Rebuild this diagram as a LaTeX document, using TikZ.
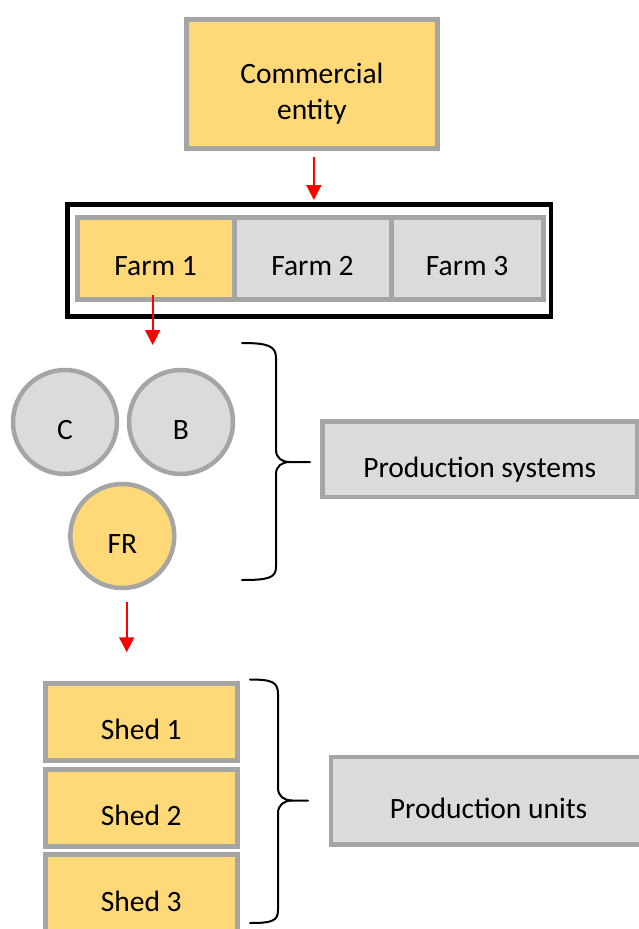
\documentclass[tikz,border=0pt]{standalone}
\usepackage{fontspec}
\setmainfont{Carlito}
\usetikzlibrary{arrows.meta,calc}

\definecolor{boxyellow}{HTML}{FFD978}
\definecolor{boxgray}{HTML}{DBDBDB}
\definecolor{bordergray}{HTML}{A5A5A5}
\definecolor{arrowred}{HTML}{FF0000}

\tikzset{
  box/.style={draw=bordergray, line width=5pt, inner sep=0pt, anchor=north west},
  yellowbox/.style={box, fill=boxyellow},
  graybox/.style={box, fill=boxgray},
  unitcircle/.style={circle, draw=bordergray, line width=4.5pt, inner sep=0pt,
    minimum size=104pt, text height=35.2pt, text depth=0pt},
  redarrow/.style={draw=arrowred, line width=2pt, -{Triangle[length=15pt,width=15pt]}},
  bracket/.style={draw=black, line width=2pt, line cap=round, line join=round},
}

\begin{document}
\begin{tikzpicture}[x=1pt, y=-1pt, font=\fontsize{29.5}{36}\selectfont]
\useasboundingbox (0,0) rectangle (639,929);

% top level
\node[yellowbox, minimum width=251.7pt, text height=64.5pt, text depth=64.7pt]
  (ce) at (183.5,16.5) {\parbox[t]{240pt}{\centering Commercial\\entity}};

% farms inside the black frame
\node[draw=black, line width=4.7pt, inner sep=0pt, anchor=north west,
  minimum width=483.6pt, minimum height=111.9pt] (frame) at (65,202.4) {};
\node[graybox, minimum width=157pt, text height=58.2pt, text depth=23.8pt]
  (farmB) at (231.5,214.5) {Farm 2};
\node[graybox, minimum width=152.3pt, text height=58.2pt, text depth=23.8pt]
  (farmC) at (388.5,214.5) {Farm 3};
\node[yellowbox, minimum width=156.7pt, text height=58.2pt, text depth=23.8pt]
  (farmA) at (74.8,214.5) {Farm 1};

% production systems
\node[unitcircle, fill=boxgray] (circC) at (65,422) {C};
\node[unitcircle, fill=boxgray] (circB) at (181,422) {B};
\node[unitcircle, fill=boxyellow] (circFR) at (122.3,536) {FR};
\node[graybox, line width=4.5pt, minimum width=314.4pt, text height=55.7pt, text depth=19.7pt]
  (psys) at (320.3,419.3) {Production systems};

% production units
\node[yellowbox, minimum width=191.6pt, text height=56pt, text depth=21.5pt]
  (shedA) at (43,680.8) {Shed 1};
\node[yellowbox, minimum width=191.6pt, text height=56.8pt, text depth=20.9pt]
  (shedB) at (43,766.5) {Shed 2};
\node[yellowbox, minimum width=191.6pt, text height=56.8pt, text depth=21pt]
  (shedC) at (43,852.3) {Shed 3};
\node[graybox, line width=4.5pt, minimum width=315pt, text height=62pt, text depth=25.3pt]
  (punits) at (328.9,754.7) {Production units};

% red arrows
\draw[redarrow] ($(ce.south)+(2,6)$) -- ($(ce.south |- frame.north)+(2,-2.4)$);
\draw[redarrow] ($(farmA.south)+(-3,-6.5)$) -- ($(farmA.south)+(-3,43.5)$);
\draw[redarrow] ($(circFR.south)+(4.4,12)$) -- ($(circFR.south)+(4.4,62)$);

% curly brackets
\draw[bracket] (242,343) .. controls (268,343) and (276,346) .. (276,358)
  -- (276,450) .. controls (276,458) and (282,462) .. (290,462) -- (310,462);
\draw[bracket] (290,462) .. controls (282,462) and (276,466) .. (276,474)
  -- (276,567) .. controls (276,578) and (268,580) .. (242,580);

\draw[bracket] (250,679.5) .. controls (272,679.5) and (278,682) .. (278,694)
  -- (278,788) .. controls (278,796) and (284,800.5) .. (292,800.5) -- (308,800.5);
\draw[bracket] (292,800.5) .. controls (284,800.5) and (278,805) .. (278,813)
  -- (278,910) .. controls (278,921) and (272,923) .. (250,923);
\end{tikzpicture}
\end{document}
